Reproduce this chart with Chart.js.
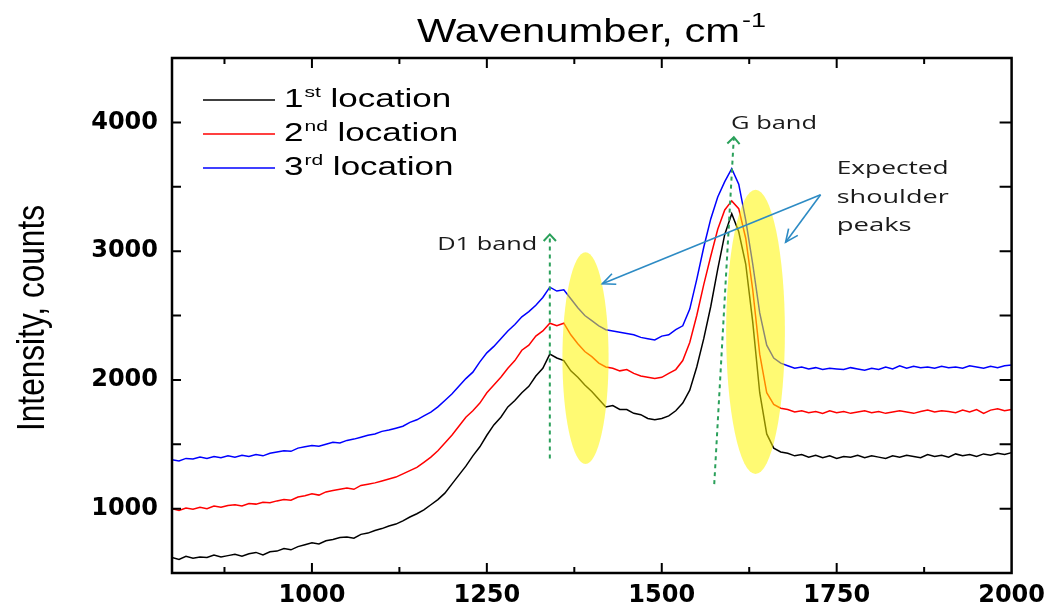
<!DOCTYPE html>
<html>
<head>
<meta charset="utf-8">
<script src="https://cdn.jsdelivr.net/npm/chart.js@4.4.1/dist/chart.umd.min.js"></script>
<style>
    html, body { margin: 0; padding: 0; background: #ffffff; }
    #wrap { width: 1053px; height: 611px; }
</style>
</head>
<body>
<div id="wrap"><canvas id="ramanChart" width="1053" height="611"></canvas></div>
<script>
// Raman spectra, three locations
const wavenumbers = [
    800, 810, 820, 830, 840, 850, 860, 870, 880, 890,
    900, 910, 920, 930, 940, 950, 960, 970, 980, 990,
    1000, 1010, 1020, 1030, 1040, 1050, 1060, 1070, 1080, 1090,
    1100, 1110, 1120, 1130, 1140, 1150, 1160, 1170, 1180, 1190,
    1200, 1210, 1220, 1230, 1240, 1250, 1260, 1270, 1280, 1290,
    1300, 1310, 1320, 1330, 1340, 1350, 1360, 1370, 1380, 1390,
    1400, 1410, 1420, 1430, 1440, 1450, 1460, 1470, 1480, 1490,
    1500, 1510, 1520, 1530, 1540, 1550, 1560, 1570, 1580, 1590,
    1600, 1610, 1620, 1630, 1640, 1650, 1660, 1670, 1680, 1690,
    1700, 1710, 1720, 1730, 1740, 1750, 1760, 1770, 1780, 1790,
    1800, 1810, 1820, 1830, 1840, 1850, 1860, 1870, 1880, 1890,
    1900, 1910, 1920, 1930, 1940, 1950, 1960, 1970, 1980, 1990,
    2000
];

const location1 = [
    620, 605, 630, 615, 625, 620, 640, 625, 635, 645,
    630, 650, 660, 640, 665, 670, 690, 680, 705, 720,
    735, 725, 750, 760, 775, 780, 770, 800, 810, 830,
    845, 865, 880, 905, 935, 960, 990, 1030, 1070, 1120,
    1190, 1260, 1330, 1410, 1480, 1570, 1650, 1710, 1790, 1840,
    1900, 1950, 2030, 2090, 2200, 2170, 2150, 2070, 2020, 1960,
    1910, 1850, 1790, 1800, 1770, 1770, 1740, 1730, 1700, 1690,
    1700, 1720, 1760, 1820, 1920, 2100, 2320, 2570, 2860, 3130,
    3290, 3150, 2900, 2450, 1900, 1580, 1470, 1440, 1430, 1410,
    1420, 1400, 1415, 1395, 1410, 1390, 1405, 1400, 1415, 1395,
    1410, 1400, 1390, 1410, 1400, 1415, 1405, 1395, 1420, 1405,
    1415, 1400, 1425, 1410, 1420, 1405, 1425, 1415, 1430, 1420,
    1435
];

const location2 = [
    1000, 985, 1005, 995, 1010, 1000, 1020, 1010, 1025, 1030,
    1020, 1040, 1035, 1050, 1045, 1060, 1070, 1065, 1090, 1100,
    1115, 1105, 1130, 1140, 1150, 1160, 1150, 1180, 1190, 1200,
    1215, 1230, 1245, 1270, 1295, 1320, 1360, 1400, 1450, 1510,
    1570, 1640, 1710, 1760, 1820, 1900, 1960, 2020, 2090, 2150,
    2230, 2270, 2340, 2380, 2440, 2420, 2440, 2350, 2280, 2220,
    2180, 2130, 2100, 2090, 2070, 2080, 2050, 2030, 2020, 2010,
    2020, 2050, 2080, 2150, 2290, 2500, 2740, 2960, 3170, 3320,
    3390, 3330, 3100, 2700, 2200, 1900, 1810, 1780, 1770, 1750,
    1760, 1745, 1755, 1740, 1760, 1745, 1755, 1740, 1750, 1760,
    1745, 1755, 1740, 1750, 1760, 1750, 1740, 1755, 1765, 1750,
    1760, 1755, 1745, 1765, 1750, 1770, 1740, 1765, 1775, 1760,
    1770
];

const location3 = [
    1380, 1370, 1390, 1385, 1400, 1390, 1405, 1395, 1410, 1400,
    1415, 1405, 1420, 1410, 1430, 1440, 1450, 1445, 1470, 1480,
    1490, 1485, 1500, 1515, 1510, 1530, 1540, 1555, 1570, 1580,
    1600, 1610, 1625, 1640, 1670, 1690, 1720, 1750, 1790, 1840,
    1890, 1950, 2010, 2060, 2140, 2210, 2260, 2320, 2380, 2430,
    2490, 2530, 2580, 2640, 2720, 2690, 2700, 2630, 2560, 2500,
    2460, 2420, 2390, 2380, 2370, 2360, 2350, 2330, 2320, 2310,
    2340, 2350, 2390, 2420, 2550, 2780, 3030, 3250, 3420, 3540,
    3640, 3520, 3240, 2900, 2520, 2270, 2170, 2130, 2110, 2090,
    2100, 2085, 2095, 2080, 2090, 2085, 2080, 2095, 2085, 2075,
    2090, 2080, 2100, 2085, 2110, 2090, 2105, 2095, 2100, 2090,
    2105, 2095, 2100, 2090, 2110, 2100, 2090, 2105, 2095, 2110,
    2115
];

const seriesLabels = ["1st location", "2nd location", "3rd location"];
const seriesColors = ["#000000", "#ff0000", "#0000ff"];
const xTickLabels = [1000, 1250, 1500, 1750, 2000];
const yTickLabels = [1000, 2000, 3000, 4000];

// annotations, in data units
const bandMarkers = [
    { from: [1340, 1390], to: [1340, 3130] },
    { from: [1575, 1190], to: [1603, 3885] }
];
const shoulderEllipses = [
    { cx: 1391, cy: 2169, rx: 33, ry: 823 },
    { cx: 1634, cy: 2373, rx: 42, ry: 1104 }
];
const calloutOrigin = [1727, 3438];
const calloutTargets = [[1415, 2746], [1677, 3069]];

const allSeries = [location1, location2, location3];

function fitText(ctx, text, x, y, font, width, align) {
    ctx.save();
    ctx.font = font;
    const natural = ctx.measureText(text).width;
    const sx = width / natural;
    ctx.translate(x, y);
    ctx.scale(sx, 1);
    ctx.textAlign = align || "left";
    ctx.textBaseline = "alphabetic";
    ctx.fillText(text, 0, 0);
    ctx.restore();
}

function stretchText(ctx, text, x, y, font, sx) {
    ctx.save();
    ctx.font = font;
    ctx.translate(x, y);
    ctx.scale(sx, 1);
    ctx.textAlign = "left";
    ctx.textBaseline = "alphabetic";
    ctx.fillText(text, 0, 0);
    const w = ctx.measureText(text).width * sx;
    ctx.restore();
    return w;
}

function openHead(ctx, x1, y1, x2, y2, len, spread) {
    const a = Math.atan2(y2 - y1, x2 - x1);
    ctx.beginPath();
    ctx.moveTo(x2 - len * Math.cos(a - spread), y2 - len * Math.sin(a - spread));
    ctx.lineTo(x2, y2);
    ctx.lineTo(x2 - len * Math.cos(a + spread), y2 - len * Math.sin(a + spread));
    ctx.stroke();
}

const decorPlugin = {
    id: "decor",
    afterDatasetsDraw(chart) {
        const ctx = chart.ctx;
        const xs = chart.scales.x;
        const ys = chart.scales.y;
        const px = v => xs.getPixelForValue(v);
        const py = v => ys.getPixelForValue(v);

        // yellow highlight ellipses
        ctx.save();
        ctx.fillStyle = "rgba(255, 245, 0, 0.55)";
        shoulderEllipses.forEach(e => {
            const rx = Math.abs(px(e.cx + e.rx) - px(e.cx));
            const ry = Math.abs(py(e.cy + e.ry) - py(e.cy));
            ctx.beginPath();
            ctx.ellipse(px(e.cx), py(e.cy), rx, ry, 0, 0, Math.PI * 2);
            ctx.fill();
        });
        ctx.restore();

        // green dashed band markers
        ctx.save();
        ctx.strokeStyle = "#2aa05a";
        ctx.lineWidth = 2;
        bandMarkers.forEach(m => {
            const x1 = px(m.from[0]), y1 = py(m.from[1]);
            const x2 = px(m.to[0]), y2 = py(m.to[1]);
            ctx.setLineDash([4, 4]);
            ctx.beginPath();
            ctx.moveTo(x1, y1);
            ctx.lineTo(x2, y2);
            ctx.stroke();
            ctx.setLineDash([]);
            openHead(ctx, x1, y1, x2, y2, 9, 0.75);
        });
        ctx.restore();

        // blue callout arrows
        ctx.save();
        ctx.strokeStyle = "#2d8bc4";
        ctx.lineWidth = 1.6;
        const ox = px(calloutOrigin[0]), oy = py(calloutOrigin[1]);
        calloutTargets.forEach(t => {
            const tx = px(t[0]), ty = py(t[1]);
            ctx.beginPath();
            ctx.moveTo(ox, oy);
            ctx.lineTo(tx, ty);
            ctx.stroke();
            openHead(ctx, ox, oy, tx, ty, 14, 0.42);
        });
        ctx.restore();

        // annotation text
        ctx.save();
        ctx.fillStyle = "#1a1a1a";
        const annFont = '19px "Open Sans", "DejaVu Sans", sans-serif';
        fitText(ctx, "D1 band", px(1322), py(3008), annFont, 100, "right");
        fitText(ctx, "G band", px(1599), py(3946), annFont, 86, "left");
        fitText(ctx, "Expected", px(1750), py(3600), annFont, 112, "left");
        fitText(ctx, "shoulder", px(1750), py(3377), annFont, 112, "left");
        fitText(ctx, "peaks", px(1750), py(3154), annFont, 75, "left");
        ctx.restore();
    },
    afterDraw(chart) {
        const ctx = chart.ctx;
        const area = chart.chartArea;
        const xs = chart.scales.x;
        const ys = chart.scales.y;

        // frame
        ctx.save();
        ctx.strokeStyle = "#000000";
        ctx.lineWidth = 2.5;
        ctx.strokeRect(area.left, area.top, area.right - area.left, area.bottom - area.top);

        // inward ticks
        ctx.lineWidth = 2;
        ctx.beginPath();
        for (let v = 875; v < 2000; v += 125) {
            const major = v % 250 === 0;
            const len = major ? 10 : 6;
            const x = xs.getPixelForValue(v);
            ctx.moveTo(x, area.bottom);
            ctx.lineTo(x, area.bottom - len);
            ctx.moveTo(x, area.top);
            ctx.lineTo(x, area.top + len);
        }
        for (let v = 1000; v < 4500; v += 500) {
            const y = ys.getPixelForValue(v);
            ctx.moveTo(area.left, y);
            ctx.lineTo(area.left + 9, y);
            ctx.moveTo(area.right, y);
            ctx.lineTo(area.right - 12, y);
        }
        ctx.stroke();
        ctx.restore();

        // axis titles
        ctx.save();
        ctx.fillStyle = "#000000";
        const titleFont = '34px "Liberation Sans", Arial, sans-serif';
        fitText(ctx, "Wavenumber, cm", 417, 42, titleFont, 323, "left");
        fitText(ctx, "-1", 742, 27, '20px "Liberation Sans", Arial, sans-serif', 24, "left");

        ctx.save();
        ctx.translate(44, 318);
        ctx.rotate(-Math.PI / 2);
        fitText(ctx, "Intensity, counts", 0, 0, '38px "Liberation Sans", Arial, sans-serif', 226, "center");
        ctx.restore();
        ctx.restore();

        // legend with superscripts
        ctx.save();
        const sx = 1.4;
        chart.data.datasets.forEach((ds, i) => {
            const lineY = 100 + i * 34;
            const baseY = 107 + i * 34;
            ctx.strokeStyle = ds.borderColor;
            ctx.lineWidth = 1.5;
            ctx.beginPath();
            ctx.moveTo(203, lineY);
            ctx.lineTo(275, lineY);
            ctx.stroke();

            const parts = ds.label.match(/^(\d)(\w+) (.*)$/);
            ctx.fillStyle = "#000000";
            let x = 284;
            x += stretchText(ctx, parts[1], x, baseY, '25px "Liberation Sans", Arial, sans-serif', sx);
            x += stretchText(ctx, parts[2], x + 1, baseY - 10, '15px "Liberation Sans", Arial, sans-serif', sx) + 1;
            stretchText(ctx, " " + parts[3], x, baseY, '25px "Liberation Sans", Arial, sans-serif', sx);
        });
        ctx.restore();
    }
};

const tickFont = { family: '"DejaVu Sans", Arial, sans-serif', size: 24, weight: "bold" };

new Chart(document.getElementById("ramanChart"), {
    type: "line",
    data: {
        datasets: allSeries.map((series, i) => ({
            label: seriesLabels[i],
            data: wavenumbers.map((w, j) => ({ x: w, y: series[j] })),
            borderColor: seriesColors[i],
            backgroundColor: seriesColors[i],
            borderWidth: 1.5,
            pointRadius: 0,
            tension: 0,
            fill: false
        }))
    },
    options: {
        responsive: false,
        animation: false,
        devicePixelRatio: 1,
        layout: { padding: { top: 58, right: 40, left: 0, bottom: 0 } },
        plugins: {
            legend: { display: false },
            title: { display: false },
            tooltip: { enabled: false }
        },
        scales: {
            x: {
                type: "linear",
                min: 800,
                max: 2000,
                grid: { display: false, drawTicks: false },
                border: { display: false },
                ticks: {
                    stepSize: 125,
                    autoSkip: false,
                    maxRotation: 0,
                    padding: 8,
                    color: "#000000",
                    font: tickFont,
                    callback: v => xTickLabels.includes(v) ? String(v) : ""
                },
                afterFit: s => { s.height = 38; }
            },
            y: {
                min: 500,
                max: 4500,
                grid: { display: false, drawTicks: false },
                border: { display: false },
                ticks: {
                    stepSize: 500,
                    autoSkip: false,
                    padding: 14,
                    color: "#000000",
                    font: tickFont,
                    callback: v => yTickLabels.includes(v) ? String(v) : ""
                },
                afterFit: s => { s.width = 172; }
            }
        }
    },
    plugins: [decorPlugin]
});
</script>
</body>
</html>
